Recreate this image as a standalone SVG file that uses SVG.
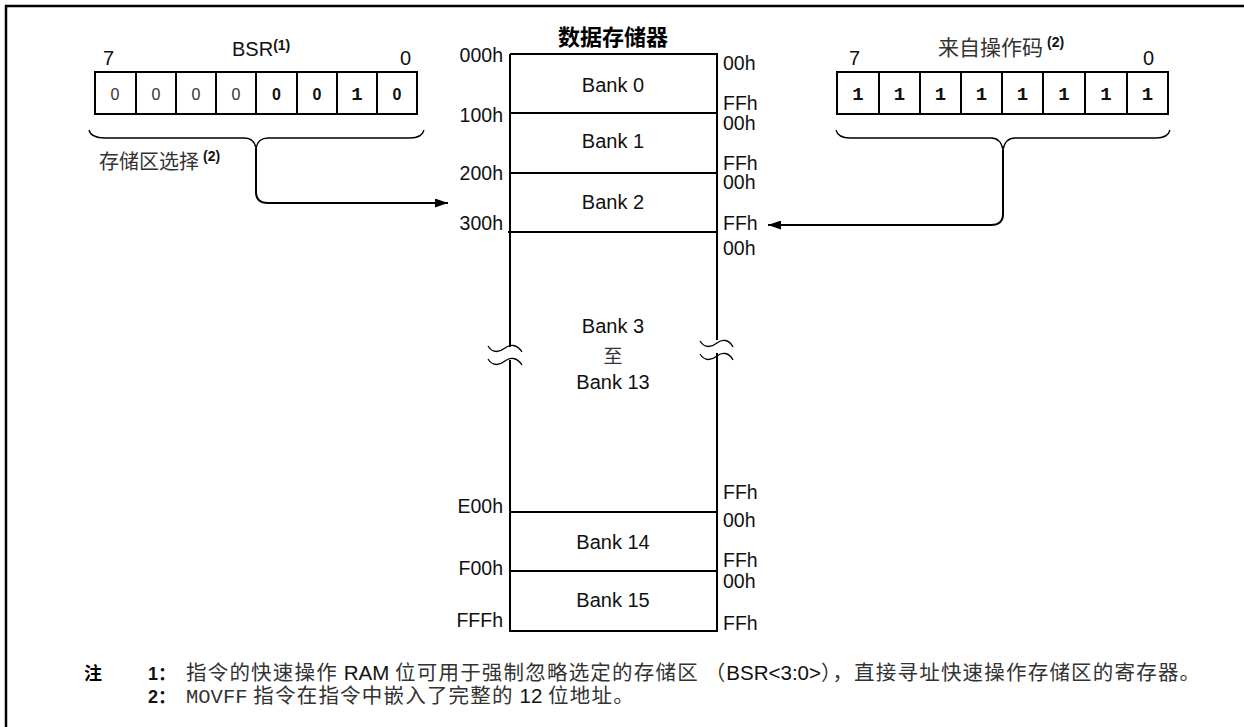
<svg xmlns="http://www.w3.org/2000/svg" width="1244" height="727" viewBox="0 0 1244 727">
<style>
  .s{font-family:"Liberation Sans","Noto Sans CJK SC",sans-serif;fill:#111}
  .cj{font-family:"Noto Sans CJK SC",sans-serif;fill:#333}
  .m{font-family:"Liberation Mono","Noto Sans CJK SC",monospace;fill:#111;font-weight:bold}
  .hx{font-size:19.5px}
  .bk{font-size:20px;text-anchor:middle}
  .cell{font-size:16px;text-anchor:middle}
  .sup{font-size:14px;font-weight:bold}
  .box{fill:#fff;stroke:#000;stroke-width:2}
  .ln{fill:none;stroke:#000;stroke-width:2}
  .thin{fill:none;stroke:#000;stroke-width:1.3}
  .note{font-size:20.5px;letter-spacing:1.2px}
</style>
<defs>
  <marker id="ah" viewBox="0 0 13 9" refX="13" refY="4.5" markerWidth="13" markerHeight="9" markerUnits="userSpaceOnUse" orient="auto">
    <path d="M0,0 L13,4.5 L0,9 Z" fill="#000"/>
  </marker>
</defs>

<!-- frame -->
<path d="M6,727 V6 H1244" fill="none" stroke="#000" stroke-width="2.5"/>

<!-- BSR register -->
<g id="bsr">
  <text class="s" x="103" y="65" font-size="20">7</text>
  <text class="s" x="232" y="56" font-size="20">BSR<tspan class="sup" dy="-6">(1)</tspan></text>
  <text class="s" x="400" y="65" font-size="20">0</text>
  <rect class="box" x="95" y="72" width="322" height="42"/>
  <path class="ln" d="M136,72V114M176,72V114M216,72V114M256,72V114M297,72V114M337,72V114M377,72V114"/>
  <g class="s cell">
    <text x="115" y="100" style="fill:#333">0</text>
    <text x="156" y="100" style="fill:#333">0</text>
    <text x="196" y="100" style="fill:#333">0</text>
    <text x="236" y="100" style="fill:#333">0</text>
    <text x="276.5" y="100" font-weight="bold">0</text>
    <text x="317" y="100" font-weight="bold">0</text>
    <text x="397" y="100" font-weight="bold">0</text>
  </g>
  <text class="m" x="357" y="100" font-size="19" text-anchor="middle">1</text>
  <path class="thin" d="M89,130 Q91,138 105,138 L244,138 Q254,138 256,148 Q258,138 268,138 L410,138 Q422,138 424,130"/>
  <text class="cj" x="99" y="169" font-size="20">存储区选择<tspan class="s sup" dx="4" dy="-8" style="fill:#111">(2)</tspan></text>
</g>

<!-- opcode register -->
<g id="opcode">
  <text class="s" x="849" y="65" font-size="20">7</text>
  <text class="cj" x="938" y="55" font-size="21">来自操作码<tspan class="s sup" dx="4" dy="-8" style="fill:#111">(2)</tspan></text>
  <text class="s" x="1143" y="65" font-size="20">0</text>
  <rect class="box" x="837" y="72" width="331" height="42"/>
  <path class="ln" d="M879,72V114M920,72V114M961,72V114M1002,72V114M1043,72V114M1085,72V114M1127,72V114"/>
  <g class="m" font-size="19" text-anchor="middle">
    <text x="858" y="100">1</text>
    <text x="899.5" y="100">1</text>
    <text x="940.5" y="100">1</text>
    <text x="981.5" y="100">1</text>
    <text x="1022.5" y="100">1</text>
    <text x="1064" y="100">1</text>
    <text x="1106" y="100">1</text>
    <text x="1147.5" y="100">1</text>
  </g>
  <path class="thin" d="M836,130 Q838,138 850,138 L991,138 Q1001,138 1003,150 Q1005,138 1015,138 L1156,138 Q1168,138 1170,130"/>
</g>

<!-- data memory -->
<g id="memory">
  <text x="613" y="45" font-family="'Noto Sans CJK SC',sans-serif" font-weight="bold" font-size="22" text-anchor="middle" fill="#000">数据存储器</text>
  <rect x="510" y="54" width="207" height="577" fill="#fff" stroke="none"/>
  <path class="ln" d="M510,54 H717 V340 M717,353 V631 H510 V360 M510,347 V54"/>
  <path class="ln" d="M510,113H717M510,173H717M508,232H717M510,512H717M510,571H717"/>
  <path class="thin" d="M488,346 C493,354 500,352 505,348 C510,344 517,344 522,352"/>
  <path class="thin" d="M488,359 C493,367 500,365 505,361 C510,357 517,357 522,365"/>
  <path class="thin" d="M700,341 C705,349 712,347 717,343 C722,339 729,339 733,347"/>
  <path class="thin" d="M700,354 C705,362 712,360 717,356 C722,352 729,352 733,360"/>
</g>

<g id="bank0"><text class="s bk" x="613" y="92">Bank 0</text></g>
<g id="bank1"><text class="s bk" x="613" y="148">Bank 1</text></g>
<g id="bank2"><text class="s bk" x="613" y="209">Bank 2</text></g>
<g id="bank3-13">
  <text class="s bk" x="613" y="333">Bank 3</text>
  <text class="cj" x="613" y="363" font-size="19" text-anchor="middle">至</text>
  <text class="s bk" x="613" y="389">Bank 13</text>
</g>
<g id="bank14"><text class="s bk" x="613" y="549">Bank 14</text></g>
<g id="bank15"><text class="s bk" x="613" y="607">Bank 15</text></g>

<g id="addr-left" class="s hx" text-anchor="end">
  <text x="503" y="62">000h</text>
  <text x="503" y="122">100h</text>
  <text x="503" y="180">200h</text>
  <text x="503" y="230">300h</text>
  <text x="503" y="513">E00h</text>
  <text x="503" y="575">F00h</text>
  <text x="503" y="627">FFFh</text>
</g>
<g id="addr-right" class="s hx">
  <text x="723" y="70">00h</text>
  <text x="723" y="110">FFh</text>
  <text x="723" y="130">00h</text>
  <text x="723" y="170">FFh</text>
  <text x="723" y="189">00h</text>
  <text x="723" y="230">FFh</text>
  <text x="723" y="255">00h</text>
  <text x="723" y="499">FFh</text>
  <text x="723" y="527">00h</text>
  <text x="723" y="567">FFh</text>
  <text x="723" y="588">00h</text>
  <text x="723" y="630">FFh</text>
</g>

<!-- connectors -->
<g id="connectors">
  <path class="ln" d="M256,148 V192 Q256,203 268,203 H448" marker-end="url(#ah)"/>
  <path class="ln" d="M1003,150 V214 Q1003,225 991,225 H768" marker-end="url(#ah)"/>
</g>

<!-- notes -->
<g id="notes">
  <text x="84" y="680" font-family="'Noto Sans CJK SC',sans-serif" font-weight="bold" font-size="18" fill="#000">注</text>
  <text class="s" x="148" y="680" font-size="18" font-weight="bold">1<tspan font-family="'Noto Sans CJK SC',sans-serif">：</tspan></text>
  <text class="s" x="148" y="703" font-size="18" font-weight="bold">2<tspan font-family="'Noto Sans CJK SC',sans-serif">：</tspan></text>
  <text class="cj note" x="186" y="680">指令的快速操作 <tspan class="s" style="letter-spacing:0">RAM</tspan> 位可用于强制忽略选定的存储区 （<tspan class="s" style="letter-spacing:0">BSR&lt;3:0&gt;</tspan>），直接寻址快速操作存储区的寄存器。</text>
  <text class="cj note" x="186" y="703"><tspan font-family="'Liberation Mono',monospace" fill="#333" style="letter-spacing:0">MOVFF</tspan> 指令在指令中嵌入了完整的 <tspan class="s" style="letter-spacing:0">12</tspan> 位地址。</text>
</g>
</svg>
